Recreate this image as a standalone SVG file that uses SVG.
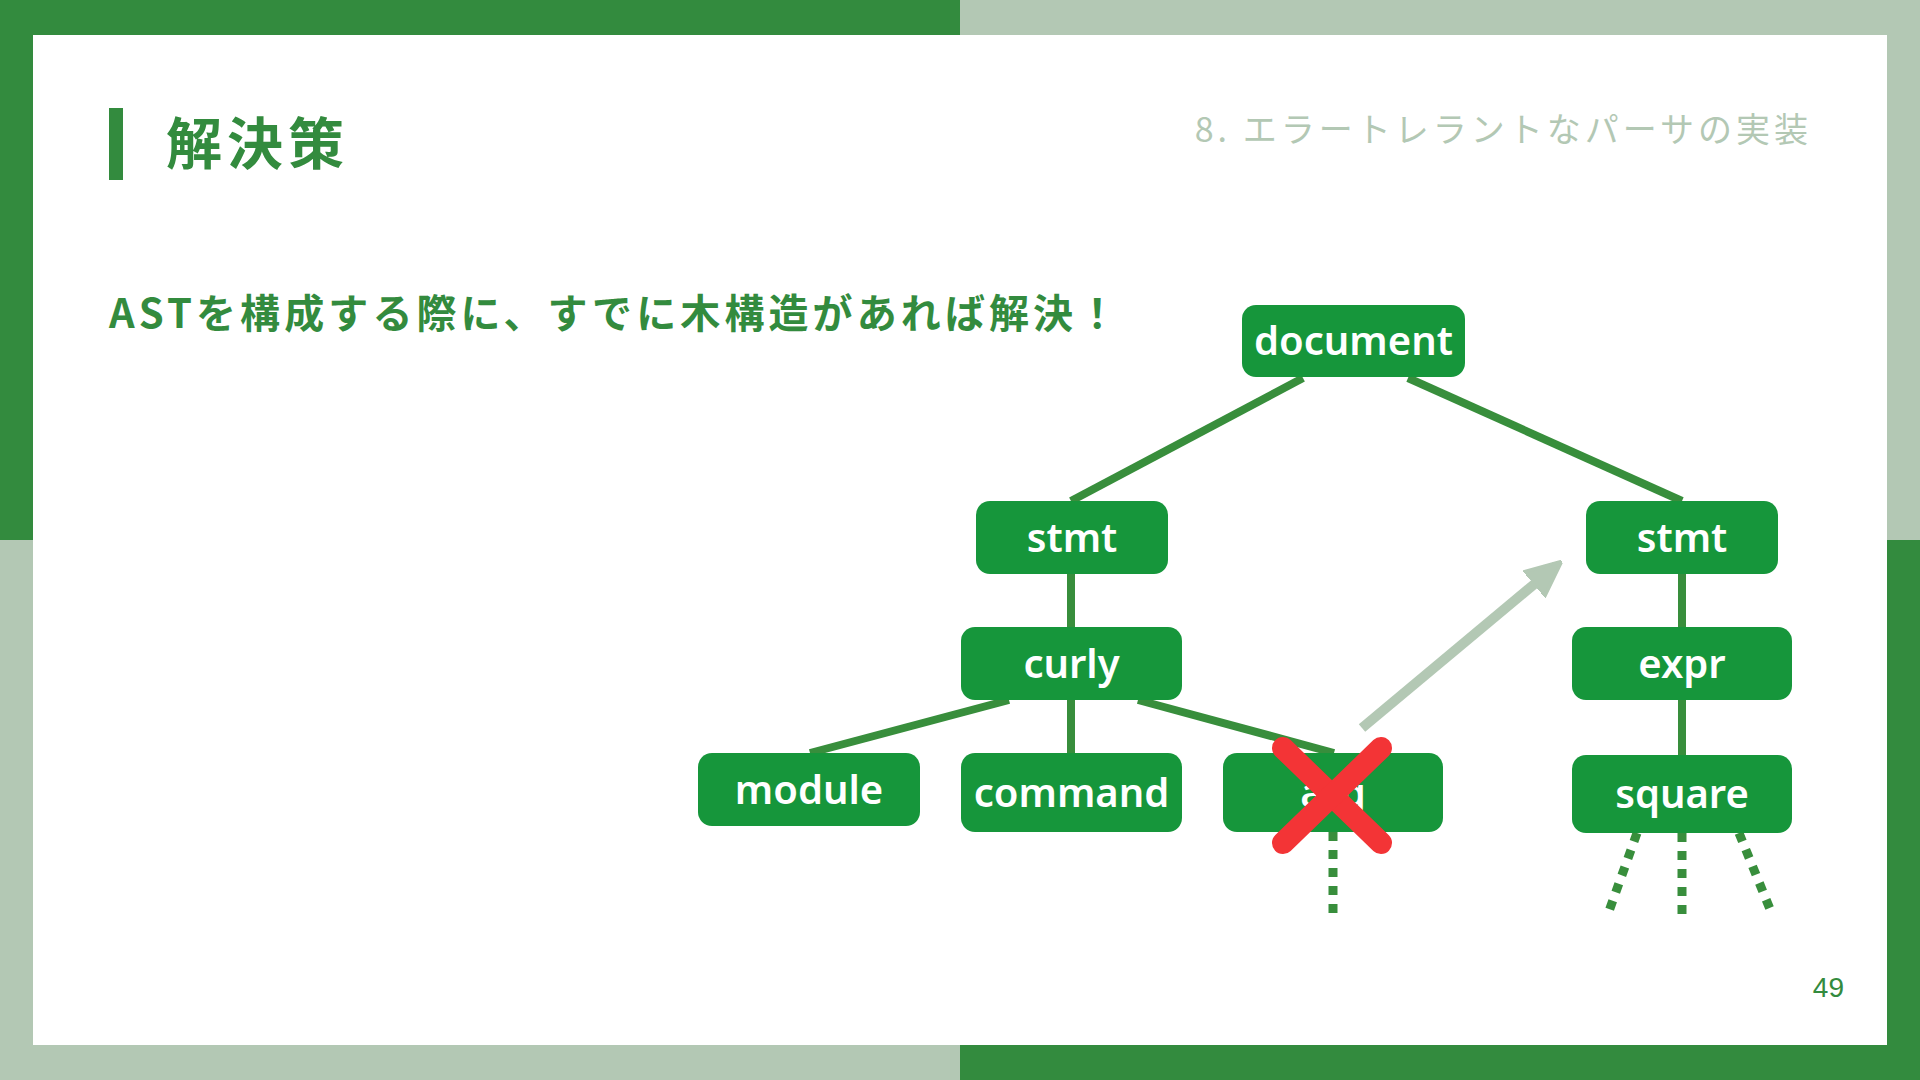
<svg xmlns="http://www.w3.org/2000/svg" width="1920" height="1080" viewBox="0 0 1920 1080">
<style>
.node rect{fill:#16963b;}
.node text{fill:#ffffff;font-family:"Noto Sans","Liberation Sans",Arial,sans-serif;font-weight:600;font-size:40px;text-anchor:middle;}
.edge{stroke:#388e3c;stroke-width:8;fill:none;}
.dot{stroke:#388e3c;stroke-width:9;fill:none;stroke-dasharray:9 9;}
</style>
<defs>
<marker id="ah" viewBox="0 0 10 10" refX="8" refY="5" markerWidth="3.6" markerHeight="3.6" orient="auto" markerUnits="strokeWidth">
<path d="M0,0.5 L10,5 L0,9.5 Z" fill="#b3c8b4" stroke="#b3c8b4" stroke-width="1" stroke-linejoin="round"/>
</marker>
</defs>
<g id="frame">
<rect x="0" y="0" width="960" height="540" fill="#338b3e"/>
<rect x="960" y="0" width="960" height="540" fill="#b3c8b4"/>
<rect x="0" y="540" width="960" height="540" fill="#b3c8b4"/>
<rect x="960" y="540" width="960" height="540" fill="#338b3e"/>
<rect x="33" y="35" width="1854" height="1010" fill="#ffffff"/>
</g>
<g id="header">
<rect x="109" y="108" width="14" height="72" fill="#338b3e"/>
<text x="166" y="164" font-family="'Noto Sans CJK JP',sans-serif" font-weight="bold" font-size="56" fill="#338b3e" letter-spacing="5">解決策</text>
<text x="1812" y="142" font-family="'Noto Sans CJK JP',sans-serif" font-size="34" fill="#b3c8b4" text-anchor="end" letter-spacing="4">8. エラートレラントなパーサの実装</text>
<text x="109" y="328" font-family="'Noto Sans CJK JP',sans-serif" font-weight="bold" font-size="40" fill="#338b3e" letter-spacing="4.1">ASTを構成する際に、すでに木構造があれば解決！</text>
<text x="1844" y="997" font-family="'Liberation Sans',Arial,sans-serif" font-size="28" fill="#338b3e" text-anchor="end">49</text>
</g>
<g id="connectors">
<line class="edge" x1="1303" y1="378" x2="1071" y2="501"/>
<line class="edge" x1="1408" y1="378" x2="1682" y2="501"/>
<line class="edge" x1="1071" y1="573" x2="1071" y2="628"/>
<line class="edge" x1="1009" y1="700" x2="810" y2="753"/>
<line class="edge" x1="1071" y1="699" x2="1071" y2="754"/>
<line class="edge" x1="1138" y1="700" x2="1334" y2="753"/>
<line class="edge" x1="1682" y1="573" x2="1682" y2="628"/>
<line class="edge" x1="1682" y1="699" x2="1682" y2="756"/>
<line class="dot" x1="1333" y1="832" x2="1333" y2="914"/>
<line class="dot" x1="1682" y1="833" x2="1682" y2="914"/>
<line class="dot" x1="1637" y1="833" x2="1608" y2="914"/>
<line class="dot" x1="1739" y1="833" x2="1772" y2="914"/>
<line x1="1362" y1="728" x2="1556" y2="566" stroke="#b3c8b4" stroke-width="10" marker-end="url(#ah)"/>
</g>
<g id="n-document" class="node"><rect x="1242" y="305" width="223" height="72" rx="14"/><text x="1353.5" y="355">document</text></g>
<g id="n-stmt1" class="node"><rect x="976" y="501" width="192" height="73" rx="14"/><text x="1072" y="552">stmt</text></g>
<g id="n-curly" class="node"><rect x="961" y="627" width="221" height="73" rx="14"/><text x="1071.5" y="678">curly</text></g>
<g id="n-module" class="node"><rect x="698" y="753" width="222" height="73" rx="14"/><text x="809" y="804">module</text></g>
<g id="n-command" class="node"><rect x="961" y="753" width="221" height="79" rx="14"/><text x="1071.5" y="807">command</text></g>
<g id="n-arg" class="node"><rect x="1223" y="753" width="220" height="79" rx="14"/><text x="1333" y="807">arg</text></g>
<g id="n-stmt2" class="node"><rect x="1586" y="501" width="192" height="73" rx="14"/><text x="1682" y="552">stmt</text></g>
<g id="n-expr" class="node"><rect x="1572" y="627" width="220" height="73" rx="14"/><text x="1682" y="678">expr</text></g>
<g id="n-square" class="node"><rect x="1572" y="755" width="220" height="78" rx="14"/><text x="1682" y="808">square</text></g>
<g id="cross" stroke="#f33436" stroke-width="22" stroke-linecap="round">
<line x1="1283" y1="748" x2="1381" y2="843"/>
<line x1="1381" y1="748" x2="1283" y2="843"/>
</g>
</svg>
